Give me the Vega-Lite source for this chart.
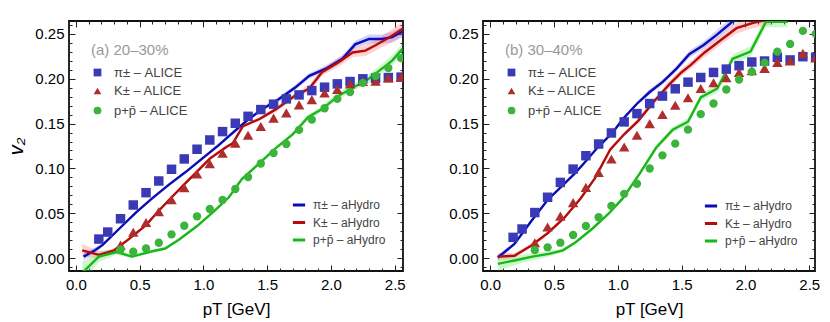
{
  "$schema": "https://vega.github.io/schema/vega-lite/v6.json",
  "padding": {"left": 5, "top": 16, "right": 0, "bottom": 0},
  "spacing": 80,
  "bounds": "flush",
  "resolve": {
    "scale": {"x": "independent", "y": "independent", "fill": "independent", "shape": "independent", "stroke": "independent", "color": "independent", "size": "independent"},
    "legend": {"fill": "independent", "shape": "independent", "stroke": "independent", "color": "independent", "size": "independent"}
  },
  "config": {
    "view": {"stroke": "#111111", "strokeWidth": 1.8},
    "font": "Liberation Sans",
    "axis": {"domain": false, "grid": false, "labelFont": "Liberation Sans", "labelFontSize": 15, "labelColor": "#000000", "tickColor": "#222222", "tickWidth": 1, "titleFont": "Liberation Sans", "titleFontSize": 17, "titleFontWeight": "normal", "titleColor": "#000000", "labelOverlap": false, "labelFlush": false},
    "legend": {"labelFont": "Liberation Sans", "labelColor": "#444444", "titleFont": "Liberation Sans", "zindex": 5}
  },
  "datasets": {
    "a_pts": [
      {"species": "π± – ALICE", "pT": 0.18, "v2": 0.0215}, {"species": "π± – ALICE", "pT": 0.25, "v2": 0.0293}, {"species": "π± – ALICE", "pT": 0.35, "v2": 0.0441}, {"species": "π± – ALICE", "pT": 0.45, "v2": 0.0594}, {"species": "π± – ALICE", "pT": 0.55, "v2": 0.0731}, {"species": "π± – ALICE", "pT": 0.65, "v2": 0.0861}, {"species": "π± – ALICE", "pT": 0.75, "v2": 0.0991}, {"species": "π± – ALICE", "pT": 0.85, "v2": 0.1106}, {"species": "π± – ALICE", "pT": 0.95, "v2": 0.1214}, {"species": "π± – ALICE", "pT": 1.05, "v2": 0.1317}, {"species": "π± – ALICE", "pT": 1.15, "v2": 0.141}, {"species": "π± – ALICE", "pT": 1.25, "v2": 0.1503}, {"species": "π± – ALICE", "pT": 1.35, "v2": 0.158}, {"species": "π± – ALICE", "pT": 1.45, "v2": 0.1655}, {"species": "π± – ALICE", "pT": 1.55, "v2": 0.1715}, {"species": "π± – ALICE", "pT": 1.65, "v2": 0.1774}, {"species": "π± – ALICE", "pT": 1.75, "v2": 0.1818}, {"species": "π± – ALICE", "pT": 1.85, "v2": 0.1866}, {"species": "π± – ALICE", "pT": 1.95, "v2": 0.1904}, {"species": "π± – ALICE", "pT": 2.05, "v2": 0.1941}, {"species": "π± – ALICE", "pT": 2.15, "v2": 0.1967}, {"species": "π± – ALICE", "pT": 2.25, "v2": 0.1997}, {"species": "π± – ALICE", "pT": 2.35, "v2": 0.2004}, {"species": "π± – ALICE", "pT": 2.45, "v2": 0.2011}, {"species": "π± – ALICE", "pT": 2.55, "v2": 0.2016},
      {"species": "K± – ALICE", "pT": 0.35, "v2": 0.0148}, {"species": "K± – ALICE", "pT": 0.45, "v2": 0.029}, {"species": "K± – ALICE", "pT": 0.55, "v2": 0.04}, {"species": "K± – ALICE", "pT": 0.65, "v2": 0.052}, {"species": "K± – ALICE", "pT": 0.75, "v2": 0.0653}, {"species": "K± – ALICE", "pT": 0.85, "v2": 0.0786}, {"species": "K± – ALICE", "pT": 0.95, "v2": 0.0939}, {"species": "K± – ALICE", "pT": 1.05, "v2": 0.1053}, {"species": "K± – ALICE", "pT": 1.15, "v2": 0.1169}, {"species": "K± – ALICE", "pT": 1.25, "v2": 0.128}, {"species": "K± – ALICE", "pT": 1.35, "v2": 0.137}, {"species": "K± – ALICE", "pT": 1.45, "v2": 0.1466}, {"species": "K± – ALICE", "pT": 1.55, "v2": 0.156}, {"species": "K± – ALICE", "pT": 1.65, "v2": 0.1618}, {"species": "K± – ALICE", "pT": 1.75, "v2": 0.1707}, {"species": "K± – ALICE", "pT": 1.85, "v2": 0.1766}, {"species": "K± – ALICE", "pT": 1.95, "v2": 0.184}, {"species": "K± – ALICE", "pT": 2.05, "v2": 0.1878}, {"species": "K± – ALICE", "pT": 2.15, "v2": 0.194}, {"species": "K± – ALICE", "pT": 2.25, "v2": 0.1967}, {"species": "K± – ALICE", "pT": 2.35, "v2": 0.197}, {"species": "K± – ALICE", "pT": 2.45, "v2": 0.2008}, {"species": "K± – ALICE", "pT": 2.55, "v2": 0.2016},
      {"species": "p+p̄ – ALICE", "pT": 0.35, "v2": 0.0096}, {"species": "p+p̄ – ALICE", "pT": 0.45, "v2": 0.0074}, {"species": "p+p̄ – ALICE", "pT": 0.55, "v2": 0.0111}, {"species": "p+p̄ – ALICE", "pT": 0.65, "v2": 0.0174}, {"species": "p+p̄ – ALICE", "pT": 0.75, "v2": 0.0267}, {"species": "p+p̄ – ALICE", "pT": 0.85, "v2": 0.0363}, {"species": "p+p̄ – ALICE", "pT": 0.95, "v2": 0.0468}, {"species": "p+p̄ – ALICE", "pT": 1.05, "v2": 0.0549}, {"species": "p+p̄ – ALICE", "pT": 1.15, "v2": 0.0649}, {"species": "p+p̄ – ALICE", "pT": 1.25, "v2": 0.0772}, {"species": "p+p̄ – ALICE", "pT": 1.35, "v2": 0.0905}, {"species": "p+p̄ – ALICE", "pT": 1.45, "v2": 0.1055}, {"species": "p+p̄ – ALICE", "pT": 1.55, "v2": 0.1173}, {"species": "p+p̄ – ALICE", "pT": 1.65, "v2": 0.1273}, {"species": "p+p̄ – ALICE", "pT": 1.75, "v2": 0.1429}, {"species": "p+p̄ – ALICE", "pT": 1.85, "v2": 0.1543}, {"species": "p+p̄ – ALICE", "pT": 1.95, "v2": 0.167}, {"species": "p+p̄ – ALICE", "pT": 2.05, "v2": 0.1774}, {"species": "p+p̄ – ALICE", "pT": 2.15, "v2": 0.1849}, {"species": "p+p̄ – ALICE", "pT": 2.25, "v2": 0.1952}, {"species": "p+p̄ – ALICE", "pT": 2.35, "v2": 0.2027}, {"species": "p+p̄ – ALICE", "pT": 2.45, "v2": 0.2116}, {"species": "p+p̄ – ALICE", "pT": 2.55, "v2": 0.2227}
    ],
    "a_hyd": [
      {"species": "π± – aHydro", "pT": 0.06, "v2": 0.002, "err": 0.004}, {"species": "π± – aHydro", "pT": 0.15, "v2": 0.009, "err": 0.003}, {"species": "π± – aHydro", "pT": 0.21, "v2": 0.015, "err": 0.002}, {"species": "π± – aHydro", "pT": 0.34, "v2": 0.033, "err": 0.0015}, {"species": "π± – aHydro", "pT": 0.47, "v2": 0.051, "err": 0.0015}, {"species": "π± – aHydro", "pT": 0.6, "v2": 0.067, "err": 0.0015}, {"species": "π± – aHydro", "pT": 0.73, "v2": 0.082, "err": 0.0015}, {"species": "π± – aHydro", "pT": 0.86, "v2": 0.096, "err": 0.0015}, {"species": "π± – aHydro", "pT": 0.99, "v2": 0.111, "err": 0.0015}, {"species": "π± – aHydro", "pT": 1.12, "v2": 0.126, "err": 0.002}, {"species": "π± – aHydro", "pT": 1.2, "v2": 0.136, "err": 0.002}, {"species": "π± – aHydro", "pT": 1.33, "v2": 0.152, "err": 0.002}, {"species": "π± – aHydro", "pT": 1.46, "v2": 0.166, "err": 0.002}, {"species": "π± – aHydro", "pT": 1.59, "v2": 0.177, "err": 0.0025}, {"species": "π± – aHydro", "pT": 1.72, "v2": 0.19, "err": 0.003}, {"species": "π± – aHydro", "pT": 1.83, "v2": 0.203, "err": 0.003}, {"species": "π± – aHydro", "pT": 1.96, "v2": 0.211, "err": 0.0035}, {"species": "π± – aHydro", "pT": 2.09, "v2": 0.222, "err": 0.004}, {"species": "π± – aHydro", "pT": 2.19, "v2": 0.238, "err": 0.004}, {"species": "π± – aHydro", "pT": 2.3, "v2": 0.244, "err": 0.005}, {"species": "π± – aHydro", "pT": 2.4, "v2": 0.244, "err": 0.005}, {"species": "π± – aHydro", "pT": 2.48, "v2": 0.246, "err": 0.006}, {"species": "π± – aHydro", "pT": 2.56, "v2": 0.252, "err": 0.006},
      {"species": "K± – aHydro", "pT": 0.05, "v2": 0.009, "err": 0.007}, {"species": "K± – aHydro", "pT": 0.18, "v2": 0.004, "err": 0.004}, {"species": "K± – aHydro", "pT": 0.3, "v2": 0.009, "err": 0.002}, {"species": "K± – aHydro", "pT": 0.42, "v2": 0.022, "err": 0.0015}, {"species": "K± – aHydro", "pT": 0.55, "v2": 0.037, "err": 0.0015}, {"species": "K± – aHydro", "pT": 0.63, "v2": 0.05, "err": 0.0015}, {"species": "K± – aHydro", "pT": 0.73, "v2": 0.065, "err": 0.0015}, {"species": "K± – aHydro", "pT": 0.84, "v2": 0.081, "err": 0.0015}, {"species": "K± – aHydro", "pT": 0.94, "v2": 0.095, "err": 0.0015}, {"species": "K± – aHydro", "pT": 1.05, "v2": 0.111, "err": 0.002}, {"species": "K± – aHydro", "pT": 1.18, "v2": 0.124, "err": 0.002}, {"species": "K± – aHydro", "pT": 1.23, "v2": 0.128, "err": 0.002}, {"species": "K± – aHydro", "pT": 1.31, "v2": 0.147, "err": 0.002}, {"species": "K± – aHydro", "pT": 1.44, "v2": 0.155, "err": 0.002}, {"species": "K± – aHydro", "pT": 1.57, "v2": 0.166, "err": 0.003}, {"species": "K± – aHydro", "pT": 1.72, "v2": 0.181, "err": 0.003}, {"species": "K± – aHydro", "pT": 1.83, "v2": 0.189, "err": 0.004}, {"species": "K± – aHydro", "pT": 1.93, "v2": 0.207, "err": 0.004}, {"species": "K± – aHydro", "pT": 2.06, "v2": 0.218, "err": 0.005}, {"species": "K± – aHydro", "pT": 2.17, "v2": 0.229, "err": 0.005}, {"species": "K± – aHydro", "pT": 2.27, "v2": 0.231, "err": 0.006}, {"species": "K± – aHydro", "pT": 2.35, "v2": 0.237, "err": 0.006}, {"species": "K± – aHydro", "pT": 2.46, "v2": 0.246, "err": 0.007}, {"species": "K± – aHydro", "pT": 2.56, "v2": 0.255, "err": 0.008},
      {"species": "p+p̄ – aHydro", "pT": 0.05, "v2": -0.016, "err": 0.012}, {"species": "p+p̄ – aHydro", "pT": 0.18, "v2": 0.002, "err": 0.006}, {"species": "p+p̄ – aHydro", "pT": 0.32, "v2": 0.007, "err": 0.003}, {"species": "p+p̄ – aHydro", "pT": 0.44, "v2": 0.002, "err": 0.002}, {"species": "p+p̄ – aHydro", "pT": 0.6, "v2": 0.008, "err": 0.0015}, {"species": "p+p̄ – aHydro", "pT": 0.7, "v2": 0.011, "err": 0.0015}, {"species": "p+p̄ – aHydro", "pT": 0.81, "v2": 0.021, "err": 0.0015}, {"species": "p+p̄ – aHydro", "pT": 0.95, "v2": 0.036, "err": 0.0015}, {"species": "p+p̄ – aHydro", "pT": 1.08, "v2": 0.052, "err": 0.0015}, {"species": "p+p̄ – aHydro", "pT": 1.2, "v2": 0.068, "err": 0.0015}, {"species": "p+p̄ – aHydro", "pT": 1.3, "v2": 0.088, "err": 0.002}, {"species": "p+p̄ – aHydro", "pT": 1.44, "v2": 0.106, "err": 0.002}, {"species": "p+p̄ – aHydro", "pT": 1.57, "v2": 0.123, "err": 0.002}, {"species": "p+p̄ – aHydro", "pT": 1.7, "v2": 0.138, "err": 0.002}, {"species": "p+p̄ – aHydro", "pT": 1.82, "v2": 0.157, "err": 0.003}, {"species": "p+p̄ – aHydro", "pT": 1.93, "v2": 0.166, "err": 0.003}, {"species": "p+p̄ – aHydro", "pT": 2.06, "v2": 0.181, "err": 0.004}, {"species": "p+p̄ – aHydro", "pT": 2.2, "v2": 0.192, "err": 0.004}, {"species": "p+p̄ – aHydro", "pT": 2.3, "v2": 0.2, "err": 0.005}, {"species": "p+p̄ – aHydro", "pT": 2.4, "v2": 0.211, "err": 0.005}, {"species": "p+p̄ – aHydro", "pT": 2.48, "v2": 0.22, "err": 0.006}, {"species": "p+p̄ – aHydro", "pT": 2.56, "v2": 0.233, "err": 0.006}
    ],
    "b_pts": [
      {"species": "π± – ALICE", "pT": 0.18, "v2": 0.0234}, {"species": "π± – ALICE", "pT": 0.25, "v2": 0.0327}, {"species": "π± – ALICE", "pT": 0.35, "v2": 0.051}, {"species": "π± – ALICE", "pT": 0.45, "v2": 0.068}, {"species": "π± – ALICE", "pT": 0.55, "v2": 0.0845}, {"species": "π± – ALICE", "pT": 0.65, "v2": 0.0993}, {"species": "π± – ALICE", "pT": 0.75, "v2": 0.1142}, {"species": "π± – ALICE", "pT": 0.85, "v2": 0.1272}, {"species": "π± – ALICE", "pT": 0.95, "v2": 0.1395}, {"species": "π± – ALICE", "pT": 1.05, "v2": 0.1518}, {"species": "π± – ALICE", "pT": 1.15, "v2": 0.161}, {"species": "π± – ALICE", "pT": 1.25, "v2": 0.1722}, {"species": "π± – ALICE", "pT": 1.35, "v2": 0.1805}, {"species": "π± – ALICE", "pT": 1.45, "v2": 0.1886}, {"species": "π± – ALICE", "pT": 1.55, "v2": 0.196}, {"species": "π± – ALICE", "pT": 1.65, "v2": 0.2012}, {"species": "π± – ALICE", "pT": 1.75, "v2": 0.2068}, {"species": "π± – ALICE", "pT": 1.85, "v2": 0.2105}, {"species": "π± – ALICE", "pT": 1.95, "v2": 0.2143}, {"species": "π± – ALICE", "pT": 2.05, "v2": 0.2184}, {"species": "π± – ALICE", "pT": 2.15, "v2": 0.2195}, {"species": "π± – ALICE", "pT": 2.25, "v2": 0.2236}, {"species": "π± – ALICE", "pT": 2.35, "v2": 0.2207}, {"species": "π± – ALICE", "pT": 2.45, "v2": 0.2243}, {"species": "π± – ALICE", "pT": 2.55, "v2": 0.2236},
      {"species": "K± – ALICE", "pT": 0.35, "v2": 0.0175}, {"species": "K± – ALICE", "pT": 0.45, "v2": 0.035}, {"species": "K± – ALICE", "pT": 0.55, "v2": 0.047}, {"species": "K± – ALICE", "pT": 0.65, "v2": 0.062}, {"species": "K± – ALICE", "pT": 0.75, "v2": 0.079}, {"species": "K± – ALICE", "pT": 0.85, "v2": 0.0956}, {"species": "K± – ALICE", "pT": 0.95, "v2": 0.1105}, {"species": "K± – ALICE", "pT": 1.05, "v2": 0.1239}, {"species": "K± – ALICE", "pT": 1.15, "v2": 0.137}, {"species": "K± – ALICE", "pT": 1.25, "v2": 0.1499}, {"species": "K± – ALICE", "pT": 1.35, "v2": 0.16}, {"species": "K± – ALICE", "pT": 1.45, "v2": 0.1704}, {"species": "K± – ALICE", "pT": 1.55, "v2": 0.1786}, {"species": "K± – ALICE", "pT": 1.65, "v2": 0.189}, {"species": "K± – ALICE", "pT": 1.75, "v2": 0.1953}, {"species": "K± – ALICE", "pT": 1.85, "v2": 0.2009}, {"species": "K± – ALICE", "pT": 1.95, "v2": 0.2068}, {"species": "K± – ALICE", "pT": 2.05, "v2": 0.2087}, {"species": "K± – ALICE", "pT": 2.15, "v2": 0.2113}, {"species": "K± – ALICE", "pT": 2.25, "v2": 0.218}, {"species": "K± – ALICE", "pT": 2.35, "v2": 0.2195}, {"species": "K± – ALICE", "pT": 2.45, "v2": 0.228}, {"species": "K± – ALICE", "pT": 2.55, "v2": 0.223},
      {"species": "p+p̄ – ALICE", "pT": 0.35, "v2": 0.0093}, {"species": "p+p̄ – ALICE", "pT": 0.45, "v2": 0.0123}, {"species": "p+p̄ – ALICE", "pT": 0.55, "v2": 0.0175}, {"species": "p+p̄ – ALICE", "pT": 0.65, "v2": 0.026}, {"species": "p+p̄ – ALICE", "pT": 0.75, "v2": 0.036}, {"species": "p+p̄ – ALICE", "pT": 0.85, "v2": 0.0458}, {"species": "p+p̄ – ALICE", "pT": 0.95, "v2": 0.0584}, {"species": "p+p̄ – ALICE", "pT": 1.05, "v2": 0.0718}, {"species": "p+p̄ – ALICE", "pT": 1.15, "v2": 0.083}, {"species": "p+p̄ – ALICE", "pT": 1.25, "v2": 0.1}, {"species": "p+p̄ – ALICE", "pT": 1.35, "v2": 0.1146}, {"species": "p+p̄ – ALICE", "pT": 1.45, "v2": 0.1276}, {"species": "p+p̄ – ALICE", "pT": 1.55, "v2": 0.1432}, {"species": "p+p̄ – ALICE", "pT": 1.65, "v2": 0.1604}, {"species": "p+p̄ – ALICE", "pT": 1.75, "v2": 0.1722}, {"species": "p+p̄ – ALICE", "pT": 1.85, "v2": 0.1878}, {"species": "p+p̄ – ALICE", "pT": 1.95, "v2": 0.199}, {"species": "p+p̄ – ALICE", "pT": 2.05, "v2": 0.2076}, {"species": "p+p̄ – ALICE", "pT": 2.15, "v2": 0.2176}, {"species": "p+p̄ – ALICE", "pT": 2.25, "v2": 0.2299}, {"species": "p+p̄ – ALICE", "pT": 2.35, "v2": 0.2385}, {"species": "p+p̄ – ALICE", "pT": 2.45, "v2": 0.253}, {"species": "p+p̄ – ALICE", "pT": 2.55, "v2": 0.2497}
    ],
    "b_hyd": [
      {"species": "π± – aHydro", "pT": 0.06, "v2": 0.001, "err": 0.003}, {"species": "π± – aHydro", "pT": 0.19, "v2": 0.016, "err": 0.002}, {"species": "π± – aHydro", "pT": 0.32, "v2": 0.041, "err": 0.0015}, {"species": "π± – aHydro", "pT": 0.45, "v2": 0.065, "err": 0.0015}, {"species": "π± – aHydro", "pT": 0.56, "v2": 0.08, "err": 0.0015}, {"species": "π± – aHydro", "pT": 0.66, "v2": 0.094, "err": 0.0015}, {"species": "π± – aHydro", "pT": 0.73, "v2": 0.105, "err": 0.0015}, {"species": "π± – aHydro", "pT": 0.84, "v2": 0.123, "err": 0.0015}, {"species": "π± – aHydro", "pT": 0.96, "v2": 0.14, "err": 0.002}, {"species": "π± – aHydro", "pT": 1.04, "v2": 0.155, "err": 0.002}, {"species": "π± – aHydro", "pT": 1.15, "v2": 0.172, "err": 0.002}, {"species": "π± – aHydro", "pT": 1.25, "v2": 0.185, "err": 0.003}, {"species": "π± – aHydro", "pT": 1.35, "v2": 0.196, "err": 0.003}, {"species": "π± – aHydro", "pT": 1.46, "v2": 0.211, "err": 0.003}, {"species": "π± – aHydro", "pT": 1.56, "v2": 0.227, "err": 0.004}, {"species": "π± – aHydro", "pT": 1.67, "v2": 0.237, "err": 0.004}, {"species": "π± – aHydro", "pT": 1.77, "v2": 0.248, "err": 0.005}, {"species": "π± – aHydro", "pT": 1.88, "v2": 0.261, "err": 0.005}, {"species": "π± – aHydro", "pT": 1.96, "v2": 0.272, "err": 0.005},
      {"species": "K± – aHydro", "pT": 0.06, "v2": 0.002, "err": 0.004}, {"species": "K± – aHydro", "pT": 0.19, "v2": 0.003, "err": 0.003}, {"species": "K± – aHydro", "pT": 0.32, "v2": 0.014, "err": 0.002}, {"species": "K± – aHydro", "pT": 0.45, "v2": 0.028, "err": 0.0015}, {"species": "K± – aHydro", "pT": 0.58, "v2": 0.045, "err": 0.0015}, {"species": "K± – aHydro", "pT": 0.71, "v2": 0.067, "err": 0.0015}, {"species": "K± – aHydro", "pT": 0.82, "v2": 0.089, "err": 0.0015}, {"species": "K± – aHydro", "pT": 0.94, "v2": 0.121, "err": 0.002}, {"species": "K± – aHydro", "pT": 1.05, "v2": 0.138, "err": 0.002}, {"species": "K± – aHydro", "pT": 1.16, "v2": 0.153, "err": 0.003}, {"species": "K± – aHydro", "pT": 1.28, "v2": 0.174, "err": 0.003}, {"species": "K± – aHydro", "pT": 1.4, "v2": 0.193, "err": 0.004}, {"species": "K± – aHydro", "pT": 1.5, "v2": 0.207, "err": 0.004}, {"species": "K± – aHydro", "pT": 1.57, "v2": 0.215, "err": 0.004}, {"species": "K± – aHydro", "pT": 1.68, "v2": 0.229, "err": 0.005}, {"species": "K± – aHydro", "pT": 1.8, "v2": 0.242, "err": 0.005}, {"species": "K± – aHydro", "pT": 1.93, "v2": 0.256, "err": 0.006}, {"species": "K± – aHydro", "pT": 2.06, "v2": 0.262, "err": 0.006}, {"species": "K± – aHydro", "pT": 2.2, "v2": 0.266, "err": 0.006},
      {"species": "p+p̄ – aHydro", "pT": 0.06, "v2": -0.006, "err": 0.008}, {"species": "p+p̄ – aHydro", "pT": 0.2, "v2": -0.002, "err": 0.005}, {"species": "p+p̄ – aHydro", "pT": 0.33, "v2": 0.002, "err": 0.004}, {"species": "p+p̄ – aHydro", "pT": 0.46, "v2": 0.005, "err": 0.003}, {"species": "p+p̄ – aHydro", "pT": 0.57, "v2": 0.009, "err": 0.002}, {"species": "p+p̄ – aHydro", "pT": 0.67, "v2": 0.018, "err": 0.0015}, {"species": "p+p̄ – aHydro", "pT": 0.8, "v2": 0.033, "err": 0.0015}, {"species": "p+p̄ – aHydro", "pT": 0.93, "v2": 0.05, "err": 0.0015}, {"species": "p+p̄ – aHydro", "pT": 1.04, "v2": 0.067, "err": 0.002}, {"species": "p+p̄ – aHydro", "pT": 1.17, "v2": 0.094, "err": 0.002}, {"species": "p+p̄ – aHydro", "pT": 1.3, "v2": 0.123, "err": 0.003}, {"species": "p+p̄ – aHydro", "pT": 1.43, "v2": 0.143, "err": 0.003}, {"species": "p+p̄ – aHydro", "pT": 1.55, "v2": 0.152, "err": 0.004}, {"species": "p+p̄ – aHydro", "pT": 1.65, "v2": 0.179, "err": 0.004}, {"species": "p+p̄ – aHydro", "pT": 1.78, "v2": 0.189, "err": 0.005}, {"species": "p+p̄ – aHydro", "pT": 1.9, "v2": 0.222, "err": 0.005}, {"species": "p+p̄ – aHydro", "pT": 2.04, "v2": 0.23, "err": 0.006}, {"species": "p+p̄ – aHydro", "pT": 2.16, "v2": 0.263, "err": 0.006}, {"species": "p+p̄ – aHydro", "pT": 2.33, "v2": 0.263, "err": 0.006}
    ]
  },
  "hconcat": [
    {
      "width": 334,
      "height": 250,
      "resolve": {"axis": {"x": "independent", "y": "independent"}},
      "layer": [
        {
          "data": {"name": "a_hyd"},
          "mark": {"type": "errorband", "clip": true, "opacity": 0.28},
          "encoding": {
            "x": {"field": "pT", "type": "quantitative", "scale": {"domain": [-0.054, 2.565], "nice": false, "zero": false}, "axis": null},
            "y": {"field": "v2", "type": "quantitative", "scale": {"domain": [-0.014, 0.264], "nice": false, "zero": false}, "axis": null},
            "yError": {"field": "err"},
            "color": {"field": "species", "type": "nominal", "scale": {"domain": ["p+p̄ – aHydro", "K± – aHydro", "π± – aHydro"], "range": ["#4fe04f", "#ff5a5a", "#5a5aff"]}, "legend": null}
          }
        },
        {
          "data": {"name": "a_hyd"},
          "mark": {"type": "line", "clip": true, "strokeWidth": 2.4},
          "encoding": {
            "x": {"field": "pT", "type": "quantitative", "scale": {"domain": [-0.054, 2.565], "nice": false, "zero": false},
              "axis": {"orient": "top", "title": null, "labels": false, "values": [0,0.1,0.2,0.3,0.4,0.5,0.6,0.7,0.8,0.9,1,1.1,1.2,1.3,1.4,1.5,1.6,1.7,1.8,1.9,2,2.1,2.2,2.3,2.4,2.5],
                "tickSize": {"condition": {"test": "round(datum.value*10) % 5 == 0", "value": -6}, "value": -3}}},
            "y": {"field": "v2", "type": "quantitative", "scale": {"domain": [-0.014, 0.264], "nice": false, "zero": false},
              "axis": {"orient": "right", "title": null, "labels": false, "values": [-0.01,0,0.01,0.02,0.03,0.04,0.05,0.06,0.07,0.08,0.09,0.1,0.11,0.12,0.13,0.14,0.15,0.16,0.17,0.18,0.19,0.2,0.21,0.22,0.23,0.24,0.25,0.26],
                "tickSize": {"condition": {"test": "round(datum.value*100) % 5 == 0", "value": -6}, "value": -3}}},
            "stroke": {"field": "species", "type": "nominal", "scale": {"domain": ["π± – aHydro", "K± – aHydro", "p+p̄ – aHydro"], "range": ["#0c0cb4", "#b40c0c", "#18b818"]},
              "legend": {"orient": "none", "legendX": 222, "legendY": 176, "type": "symbol", "title": null, "symbolType": "stroke", "symbolStrokeWidth": 3, "symbolSize": 150, "labelFontSize": 12, "rowPadding": 3.5, "labelOffset": 6}}
          }
        },
        {
          "data": {"name": "a_pts"},
          "mark": {"type": "point", "filled": true, "opacity": 1, "clip": true},
          "encoding": {
            "x": {"field": "pT", "type": "quantitative", "scale": {"domain": [-0.054, 2.565], "nice": false, "zero": false},
              "axis": {"orient": "bottom", "title": "pT [GeV]", "values": [0,0.1,0.2,0.3,0.4,0.5,0.6,0.7,0.8,0.9,1,1.1,1.2,1.3,1.4,1.5,1.6,1.7,1.8,1.9,2,2.1,2.2,2.3,2.4,2.5],
                "labelExpr": "round(datum.value*10) % 5 == 0 ? format(datum.value, '.1f') : ''",
                "tickSize": {"condition": {"test": "round(datum.value*10) % 5 == 0", "value": -6}, "value": -3}, "labelPadding": 12, "titlePadding": 6}},
            "y": {"field": "v2", "type": "quantitative", "scale": {"domain": [-0.014, 0.264], "nice": false, "zero": false},
              "axis": {"orient": "left", "title": "v₂", "titleFontStyle": "italic", "titleFontSize": 20, "values": [-0.01,0,0.01,0.02,0.03,0.04,0.05,0.06,0.07,0.08,0.09,0.1,0.11,0.12,0.13,0.14,0.15,0.16,0.17,0.18,0.19,0.2,0.21,0.22,0.23,0.24,0.25,0.26],
                "labelExpr": "round(datum.value*100) % 5 == 0 ? format(datum.value, '.2f') : ''",
                "tickSize": {"condition": {"test": "round(datum.value*100) % 5 == 0", "value": -6}, "value": -3}, "labelPadding": 11, "titlePadding": 8}},
            "fill": {"field": "species", "type": "nominal", "scale": {"domain": ["π± – ALICE", "K± – ALICE", "p+p̄ – ALICE"], "range": ["#3a3ab6", "#ae2e2e", "#3cb43c"]},
              "legend": {"orient": "top-left", "offset": 22, "title": "(a) 20–30%", "titleColor": "#999999", "titleFontSize": 15, "titleFontWeight": "normal", "titlePadding": 8, "labelFontSize": 13, "symbolSize": 60, "rowPadding": 4.5, "labelOffset": 10}},
            "shape": {"field": "species", "type": "nominal", "scale": {"domain": ["π± – ALICE", "K± – ALICE", "p+p̄ – ALICE"], "range": ["square", "triangle-up", "circle"]},
              "legend": {"orient": "top-left", "offset": 22, "title": "(a) 20–30%", "titleColor": "#999999", "titleFontSize": 15, "titleFontWeight": "normal", "titlePadding": 8, "labelFontSize": 13, "symbolSize": 60, "rowPadding": 4.5, "labelOffset": 10}},
            "size": {"field": "species", "type": "nominal", "scale": {"domain": ["K± – ALICE", "π± – ALICE", "p+p̄ – ALICE"], "range": [110, 70, 82]}, "legend": null}
          }
        }
      ]
    },
    {
      "width": 332,
      "height": 250,
      "resolve": {"axis": {"x": "independent", "y": "independent"}},
      "layer": [
        {
          "data": {"name": "b_hyd"},
          "mark": {"type": "errorband", "clip": true, "opacity": 0.28},
          "encoding": {
            "x": {"field": "pT", "type": "quantitative", "scale": {"domain": [-0.056, 2.545], "nice": false, "zero": false}, "axis": null},
            "y": {"field": "v2", "type": "quantitative", "scale": {"domain": [-0.014, 0.264], "nice": false, "zero": false}, "axis": null},
            "yError": {"field": "err"},
            "color": {"field": "species", "type": "nominal", "scale": {"domain": ["p+p̄ – aHydro", "K± – aHydro", "π± – aHydro"], "range": ["#4fe04f", "#ff5a5a", "#5a5aff"]}, "legend": null}
          }
        },
        {
          "data": {"name": "b_hyd"},
          "mark": {"type": "line", "clip": true, "strokeWidth": 2.4},
          "encoding": {
            "x": {"field": "pT", "type": "quantitative", "scale": {"domain": [-0.056, 2.545], "nice": false, "zero": false},
              "axis": {"orient": "top", "title": null, "labels": false, "values": [0,0.1,0.2,0.3,0.4,0.5,0.6,0.7,0.8,0.9,1,1.1,1.2,1.3,1.4,1.5,1.6,1.7,1.8,1.9,2,2.1,2.2,2.3,2.4,2.5],
                "tickSize": {"condition": {"test": "round(datum.value*10) % 5 == 0", "value": -6}, "value": -3}}},
            "y": {"field": "v2", "type": "quantitative", "scale": {"domain": [-0.014, 0.264], "nice": false, "zero": false},
              "axis": {"orient": "right", "title": null, "labels": false, "values": [-0.01,0,0.01,0.02,0.03,0.04,0.05,0.06,0.07,0.08,0.09,0.1,0.11,0.12,0.13,0.14,0.15,0.16,0.17,0.18,0.19,0.2,0.21,0.22,0.23,0.24,0.25,0.26],
                "tickSize": {"condition": {"test": "round(datum.value*100) % 5 == 0", "value": -6}, "value": -3}}},
            "stroke": {"field": "species", "type": "nominal", "scale": {"domain": ["π± – aHydro", "K± – aHydro", "p+p̄ – aHydro"], "range": ["#0c0cb4", "#b40c0c", "#18b818"]},
              "legend": {"orient": "none", "legendX": 220, "legendY": 177, "type": "symbol", "title": null, "symbolType": "stroke", "symbolStrokeWidth": 3, "symbolSize": 150, "labelFontSize": 12, "rowPadding": 3.5, "labelOffset": 6}}
          }
        },
        {
          "data": {"name": "b_pts"},
          "mark": {"type": "point", "filled": true, "opacity": 1, "clip": true},
          "encoding": {
            "x": {"field": "pT", "type": "quantitative", "scale": {"domain": [-0.056, 2.545], "nice": false, "zero": false},
              "axis": {"orient": "bottom", "title": "pT [GeV]", "values": [0,0.1,0.2,0.3,0.4,0.5,0.6,0.7,0.8,0.9,1,1.1,1.2,1.3,1.4,1.5,1.6,1.7,1.8,1.9,2,2.1,2.2,2.3,2.4,2.5],
                "labelExpr": "round(datum.value*10) % 5 == 0 ? format(datum.value, '.1f') : ''",
                "tickSize": {"condition": {"test": "round(datum.value*10) % 5 == 0", "value": -6}, "value": -3}, "labelPadding": 12, "titlePadding": 6}},
            "y": {"field": "v2", "type": "quantitative", "scale": {"domain": [-0.014, 0.264], "nice": false, "zero": false},
              "axis": {"orient": "left", "title": null, "values": [-0.01,0,0.01,0.02,0.03,0.04,0.05,0.06,0.07,0.08,0.09,0.1,0.11,0.12,0.13,0.14,0.15,0.16,0.17,0.18,0.19,0.2,0.21,0.22,0.23,0.24,0.25,0.26],
                "labelExpr": "round(datum.value*100) % 5 == 0 ? format(datum.value, '.2f') : ''",
                "tickSize": {"condition": {"test": "round(datum.value*100) % 5 == 0", "value": -6}, "value": -3}, "labelPadding": 11}},
            "fill": {"field": "species", "type": "nominal", "scale": {"domain": ["π± – ALICE", "K± – ALICE", "p+p̄ – ALICE"], "range": ["#3a3ab6", "#ae2e2e", "#3cb43c"]},
              "legend": {"orient": "top-left", "offset": 22, "title": "(b) 30–40%", "titleColor": "#999999", "titleFontSize": 15, "titleFontWeight": "normal", "titlePadding": 8, "labelFontSize": 13, "symbolSize": 60, "rowPadding": 4.5, "labelOffset": 10}},
            "shape": {"field": "species", "type": "nominal", "scale": {"domain": ["π± – ALICE", "K± – ALICE", "p+p̄ – ALICE"], "range": ["square", "triangle-up", "circle"]},
              "legend": {"orient": "top-left", "offset": 22, "title": "(b) 30–40%", "titleColor": "#999999", "titleFontSize": 15, "titleFontWeight": "normal", "titlePadding": 8, "labelFontSize": 13, "symbolSize": 60, "rowPadding": 4.5, "labelOffset": 10}},
            "size": {"field": "species", "type": "nominal", "scale": {"domain": ["K± – ALICE", "π± – ALICE", "p+p̄ – ALICE"], "range": [110, 70, 82]}, "legend": null}
          }
        }
      ]
    }
  ]
}
